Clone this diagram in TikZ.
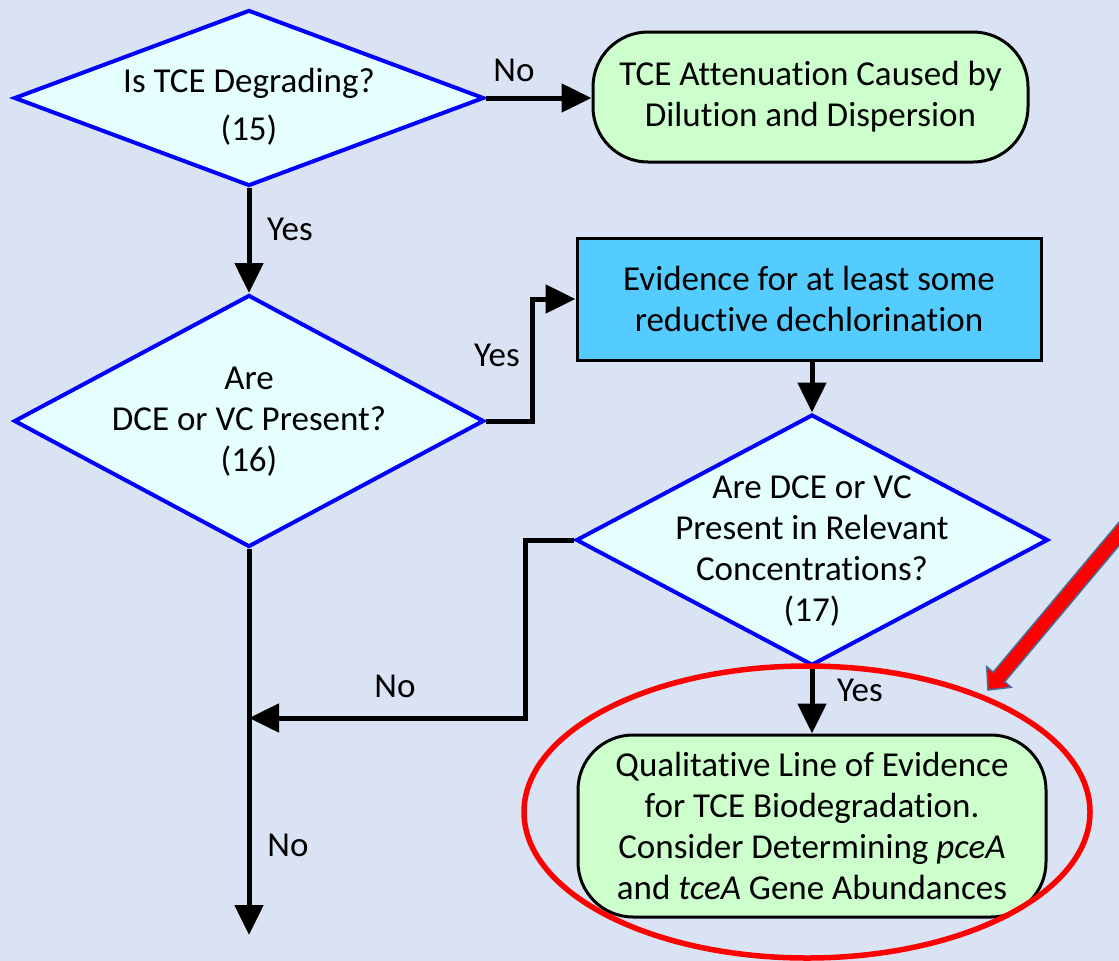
\documentclass[tikz,border=0pt]{standalone}
\usepackage{fontspec}
\setmainfont{Carlito}[Ligatures=NoCommon]
\usetikzlibrary{shapes.geometric,arrows.meta}
\definecolor{bg}{HTML}{DAE3F3}
\definecolor{decfill}{HTML}{E5FFFF}
\definecolor{boxfill}{HTML}{55CCFF}
\definecolor{termfill}{HTML}{CCFFCC}
\definecolor{steelb}{HTML}{41719C}
\begin{document}
\begin{tikzpicture}[x=1pt,y=-1pt,
  every node/.style={font=\fontsize{35}{41}\selectfont, text=black},
  dec/.style={shape=diamond, draw=blue, fill=decfill, line width=4pt, inner sep=0pt},
  dectext/.style={align=center, inner sep=0pt},
  procbox/.style={draw=black, fill=boxfill, line width=3pt, align=center, inner sep=0pt},
  term/.style={draw=black, fill=termfill, line width=3pt, rounded corners=55pt, align=center, inner sep=0pt},
  conn/.style={draw=black, line width=5pt, -{Triangle[length=30pt,width=28pt]}},
  lbl/.style={inner sep=0pt}
]
\useasboundingbox (0,0) rectangle (1119,961);
\fill[bg] (0,0) rectangle (1119,961);

% decisions
\node[dec, minimum width=470pt, minimum height=176pt] (d1) at (249,98) {};
\node[dectext] (d1t) at (249,107) {Is TCE Degrading?\\[7pt](15)};
\node[dec, minimum width=470pt, minimum height=252pt] (d2) at (249,421) {};
\node[dectext] (d2t) at (249,422) {Are\\DCE or VC Present?\\(16)};
\node[dec, minimum width=472pt, minimum height=251pt] (d3) at (812,540) {};
\node[dectext] (d3t) at (812,551) {Are DCE or VC\\Present in Relevant\\Concentrations?\\(17)};

% process and terminals
\node[procbox, minimum width=464pt, minimum height=122pt] (b) at (809,299) {Evidence for at least some\\reductive dechlorination};
\node[term, minimum width=435pt, minimum height=130pt] (t1) at (810.5,97) {TCE Attenuation Caused by\\Dilution and Dispersion};
\node[term, minimum width=468pt, minimum height=182pt] (t2) at (812,826) {Qualitative Line of Evidence\\for TCE Biodegradation.\\Consider Determining \textit{pceA}\\and \textit{tceA} Gene Abundances};

% helper coordinates
\coordinate (c1) at (532,421);
\coordinate (c3) at (525,718);
\coordinate (j) at (249,718);
\coordinate (e) at (249,935);

% connectors
\draw[conn] (d1.east) -- (d1.east -| t1.west);
\draw[conn] (d1.south) -- (d2.north);
\draw[conn] (d2.east) -- (c1) |- (b.west);
\draw[conn] (b.south -| d3.north) -- (d3.north);
\draw[conn] (d3.south) -- (t2.north);
\draw[conn] (d3.west) -| (c3) -- (j);
\draw[conn] (d2.south) -- (e);

% labels
\node[lbl] (l1) at (514,70) {No};
\node[lbl] (l2) at (290,229) {Yes};
\node[lbl] (l3) at (497,355) {Yes};
\node[lbl] (l4) at (395,686) {No};
\node[lbl] (l5) at (288,845) {No};
\node[lbl] (l6) at (860,690) {Yes};

% highlight
\draw[red, line width=5.5pt] (807,812) ellipse [x radius=283, y radius=146];
\draw[fill=red, draw=steelb, line width=1.5pt, line join=miter]
  (1186.65,465.02) -- (1004.68,681.80) -- (1011.19,687.27) -- (988,690) -- (986.67,666.69) -- (993.19,672.16) -- (1175.16,455.38) -- cycle;
\end{tikzpicture}
\end{document}
